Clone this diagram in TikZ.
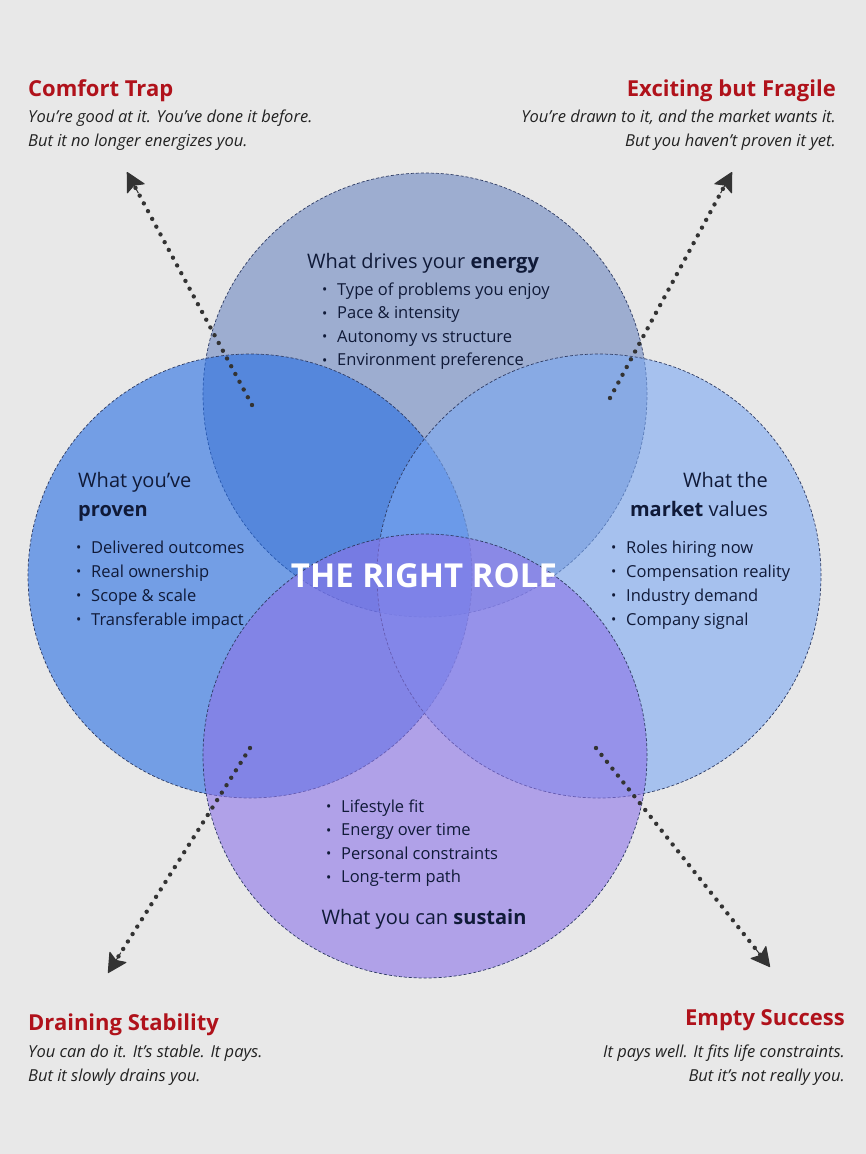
\documentclass[tikz,border=0pt]{standalone}
\usepackage{fontspec}
\setmainfont{Open Sans}
\usetikzlibrary{arrows.meta,calc}
\definecolor{bg}{HTML}{E8E8E8}
\definecolor{ctop}{RGB}{107,134,192}
\definecolor{cleft}{RGB}{38,110,228}
\definecolor{cright}{RGB}{122,168,242}
\definecolor{cbot}{RGB}{140,115,232}
\definecolor{cline}{HTML}{2E3B63}
\definecolor{redc}{HTML}{B0121B}
\definecolor{subc}{HTML}{222222}
\definecolor{txtc}{HTML}{101A38}
\definecolor{arrc}{HTML}{333333}
\tikzset{
  circ/.style={circle, minimum size=444pt, inner sep=0pt, draw=cline, line width=0.7pt, dash pattern=on 3pt off 2pt, fill opacity=0.6},
  hd/.style={inner sep=0pt, font=\fontsize{22}{26}\selectfont\bfseries, text=redc},
  sub/.style={inner sep=0pt, font=\fontsize{16.5}{20}\selectfont\itshape, text=subc},
  ttl/.style={inner sep=0pt, font=\fontsize{20}{24}\selectfont, text=txtc},
  itm/.style={inner sep=0pt, anchor=base west, font=\fontsize{16.5}{20}\selectfont, text=txtc},
  dotline/.style={draw=arrc, line width=4.4pt, dash pattern=on 0pt off 8.8pt, line cap=round, shorten >=14pt},
  headtip/.style={draw=arrc, fill=arrc, line width=1pt, -{Stealth[length=20pt, width=21pt, inset=4pt, round]}},
}
\newcommand{\bul}{\makebox[15pt][l]{\raisebox{0.02em}{\fontsize{14}{14}\selectfont•}}}
\begin{document}
\begin{tikzpicture}[x=1pt,y=-1pt]
\fill[bg] (0,0) rectangle (866,1154);
\useasboundingbox (0,0) rectangle (866,1154);
% circles
\node[circ, fill=ctop] (top) at (425,395) {};
\node[circ, fill=cleft] (left) at (250,576) {};
\node[circ, fill=cright] (right) at (599,576) {};
\node[circ, fill=cbot] (bot) at (425,756) {};
% arrows
\coordinate (a1s) at (252,405); \coordinate (a1e) at (127,172);
\coordinate (a2s) at (610,398); \coordinate (a2e) at (732,172);
\coordinate (a3s) at (250,748); \coordinate (a3e) at (108,973);
\coordinate (a4s) at (596,748); \coordinate (a4e) at (770,967);
\foreach \i in {1,2,3,4}{
  \draw[dotline] (a\i s) -- (a\i e);
  \draw[headtip] ($(a\i e)!24pt!(a\i s)$) -- (a\i e);
}
% corner texts
\node[hd, anchor=base west] (ct) at (28,96) {Comfort Trap};
\node[sub, anchor=base west] (ct1) at (28,122) {You’re good at it. You’ve done it before.};
\node[sub, anchor=base west] (ct2) at (28,146) {But it no longer energizes you.};
\node[hd, anchor=base east] (ef) at (836,96) {Exciting but Fragile};
\node[sub, anchor=base east] (ef1) at (836,122) {You’re drawn to it, and the market wants it.};
\node[sub, anchor=base east] (ef2) at (836,146) {But you haven’t proven it yet.};
\node[hd, anchor=base west] (ds) at (28,1030) {Draining Stability};
\node[sub, anchor=base west] (ds1) at (28,1057) {You can do it. It’s stable. It pays.};
\node[sub, anchor=base west] (ds2) at (28,1081) {But it slowly drains you.};
\node[hd, anchor=base east] (es) at (845,1025) {Empty Success};
\node[sub, anchor=base east] (es1) at (845,1057) {It pays well. It fits life constraints.};
\node[sub, anchor=base east] (es2) at (845,1081) {But it’s not really you.};
% top circle
\node[ttl, anchor=base] (tt) at (423,268) {What drives your \textbf{energy}};
\node[itm] (t1) at (322,295) {\bul Type of problems you enjoy};
\node[itm] (t2) at (322,318.5) {\bul Pace \& intensity};
\node[itm] (t3) at (322,342) {\bul Autonomy vs structure};
\node[itm] (t4) at (322,365.5) {\bul Environment preference};
% left circle
\node[ttl, anchor=base west] (lt1) at (78,487) {What you’ve};
\node[ttl, anchor=base west] (lt2) at (78,516) {\textbf{proven}};
\node[itm] (l1) at (76,553) {\bul Delivered outcomes};
\node[itm] (l2) at (76,577) {\bul Real ownership};
\node[itm] (l3) at (76,601) {\bul Scope \& scale};
\node[itm] (l4) at (76,625) {\bul Transferable impact};
% right circle
\node[ttl, anchor=base east] (rt1) at (768,487) {What the};
\node[ttl, anchor=base east] (rt2) at (768,516) {\textbf{market} values};
\node[itm] (r1) at (611,553) {\bul Roles hiring now};
\node[itm] (r2) at (611,577) {\bul Compensation reality};
\node[itm] (r3) at (611,601) {\bul Industry demand};
\node[itm] (r4) at (611,625) {\bul Company signal};
% bottom circle
\node[itm] (b1) at (326,812) {\bul Lifestyle fit};
\node[itm] (b2) at (326,835.5) {\bul Energy over time};
\node[itm] (b3) at (326,859) {\bul Personal constraints};
\node[itm] (b4) at (326,882.5) {\bul Long-term path};
\node[ttl, anchor=base] (bt) at (424,924) {What you can \textbf{sustain}};
% center
\node[inner sep=0pt, anchor=base, text=white, font=\fontsize{33}{36}\selectfont\bfseries] (center) at (424,587) {THE RIGHT ROLE};
\end{tikzpicture}
\end{document}
